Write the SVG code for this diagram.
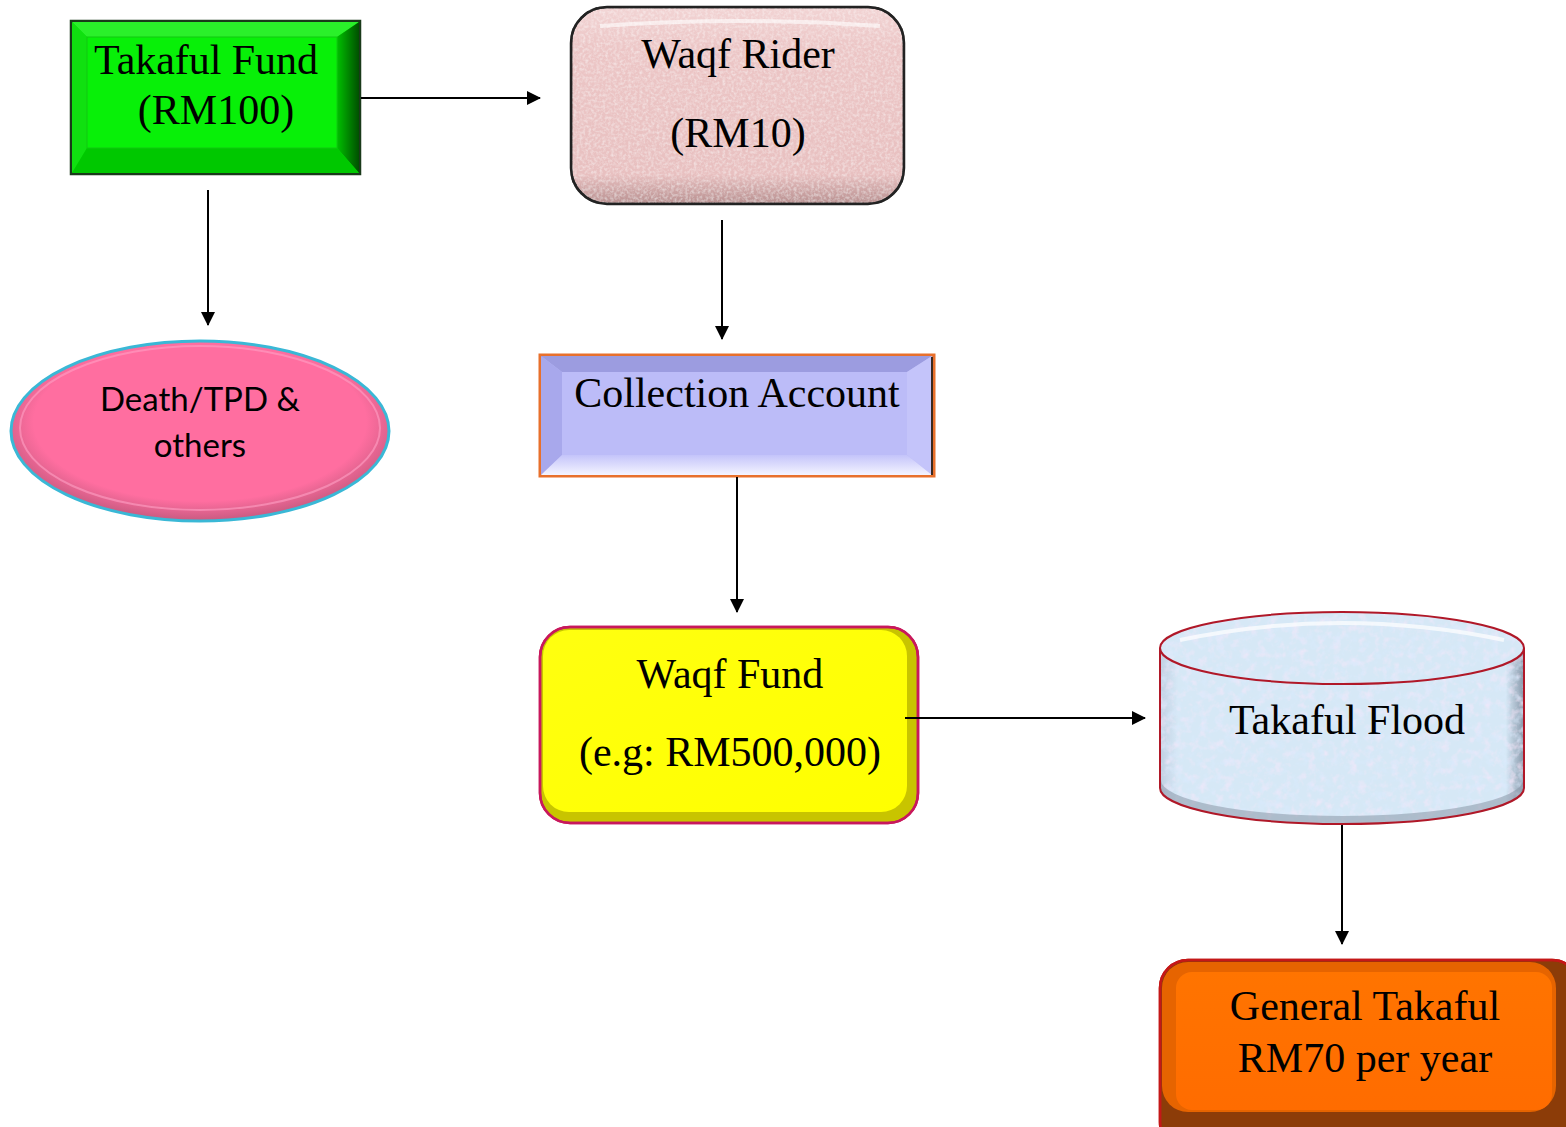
<svg xmlns="http://www.w3.org/2000/svg" width="1566" height="1127" viewBox="0 0 1566 1127">
  <defs>
    <marker id="arrow" viewBox="0 0 14 14" refX="13" refY="7" markerWidth="14" markerHeight="14" markerUnits="userSpaceOnUse" orient="auto">
      <path d="M0,0 L14,7 L0,14 Z" fill="#000"/>
    </marker>
    <!-- grainy texture for the soft stone-like fills -->
    <filter id="grain" x="0" y="0" width="100%" height="100%">
      <feTurbulence type="fractalNoise" baseFrequency="0.35" numOctaves="2" seed="4" result="n"/>
      <feColorMatrix in="n" type="matrix" values="0 0 0 0 1  0 0 0 0 1  0 0 0 0 1  0 0 0 0.9 -0.35" result="spots"/>
      <feComposite in="spots" in2="SourceGraphic" operator="in" result="clip"/>
      <feMerge><feMergeNode in="SourceGraphic"/><feMergeNode in="clip"/></feMerge>
    </filter>
    <filter id="grainBlue" x="0" y="0" width="100%" height="100%">
      <feTurbulence type="fractalNoise" baseFrequency="0.12" numOctaves="3" seed="9" result="n"/>
      <feColorMatrix in="n" type="matrix" values="0 0 0 0 0.92  0 0 0 0 0.80  0 0 0 0 0.96  1.6 0 0 0 -0.75" result="pinkSpots"/>
      <feColorMatrix in="n" type="matrix" values="0 0 0 0 0.70  0 0 0 0 0.82  0 0 0 0 0.98  0 1.6 0 0 -0.75" result="blueSpots"/>
      <feMerge result="spots"><feMergeNode in="pinkSpots"/><feMergeNode in="blueSpots"/></feMerge>
      <feComposite in="spots" in2="SourceGraphic" operator="in" result="clip"/>
      <feMerge><feMergeNode in="SourceGraphic"/><feMergeNode in="clip"/></feMerge>
    </filter>
    <linearGradient id="greenRight" x1="0" y1="0" x2="1" y2="0">
      <stop offset="0" stop-color="#00c000"/>
      <stop offset="1" stop-color="#005000"/>
    </linearGradient>
    <linearGradient id="blueBottom" x1="0" y1="0" x2="0" y2="1">
      <stop offset="0" stop-color="#c4c4fa"/>
      <stop offset="1" stop-color="#f4f4ff"/>
    </linearGradient>
    <linearGradient id="pinkFace" x1="0" y1="0" x2="0" y2="1">
      <stop offset="0" stop-color="#f2d4d4"/>
      <stop offset="0.2" stop-color="#ecc6c6"/>
      <stop offset="0.85" stop-color="#e8c0c0"/>
      <stop offset="1" stop-color="#b89090"/>
    </linearGradient>
    <radialGradient id="ellipseFill" cx="0.5" cy="0.45" r="0.55">
      <stop offset="0.8" stop-color="#ff6ea0"/>
      <stop offset="1" stop-color="#c85a80"/>
    </radialGradient>
    <linearGradient id="yellowFace" x1="0" y1="0" x2="1" y2="1">
      <stop offset="0" stop-color="#ffff10"/>
      <stop offset="1" stop-color="#ffff00"/>
    </linearGradient>
    <linearGradient id="cylBody" x1="0" y1="0" x2="1" y2="0">
      <stop offset="0" stop-color="#c0d0e2"/>
      <stop offset="0.05" stop-color="#d6e8f6"/>
      <stop offset="0.95" stop-color="#d6e8f6"/>
      <stop offset="1" stop-color="#8898aa"/>
    </linearGradient>
    <linearGradient id="orangeFace" x1="0" y1="0" x2="0" y2="1">
      <stop offset="0" stop-color="#ff7400"/>
      <stop offset="1" stop-color="#ff6c00"/>
    </linearGradient>
  </defs>
  <style>
    .serif { font-family: "Liberation Serif", "Times New Roman", serif; font-size: 42px; fill: #000; text-anchor: middle; }
    .sans { font-family: "Lato", "Liberation Sans", sans-serif; font-size: 33px; fill: #000; text-anchor: middle; }
    .conn { stroke: #000; stroke-width: 2; fill: none; marker-end: url(#arrow); }
  </style>

  <rect width="1566" height="1127" fill="#fff"/>

  <!-- Takaful Fund: bevelled green box -->
  <g id="takaful-fund">
    <rect x="71" y="21" width="289" height="153" fill="#00e000" stroke="#1a3a1a" stroke-width="2.5"/>
    <polygon points="72,22 359,22 337,37 87,37" fill="#2af02a"/>
    <polygon points="72,22 87,37 87,148 72,173" fill="#10e010"/>
    <polygon points="359,22 359,173 337,148 337,37" fill="url(#greenRight)"/>
    <polygon points="72,173 359,173 337,148 87,148" fill="#00c800"/>
    <rect x="87" y="37" width="250" height="111" fill="#08f008" stroke="#10c810" stroke-width="1"/>
    <text class="serif" x="206" y="74" textLength="224" lengthAdjust="spacing">Takaful Fund</text>
    <text class="serif" x="216" y="124">(RM100)</text>
  </g>

  <!-- Death/TPD & others: pink ellipse -->
  <g id="death-tpd">
    <ellipse cx="200" cy="431" rx="189" ry="90" fill="url(#ellipseFill)" stroke="#3ab8d6" stroke-width="3"/>
    <ellipse cx="200" cy="428" rx="180" ry="82" fill="none" stroke="#ffa0c4" stroke-width="2" opacity="0.6"/>
    <text class="sans" x="200" y="411">Death/TPD &amp;</text>
    <text class="sans" x="200" y="457">others</text>
  </g>

  <!-- Waqf Rider: textured pink rounded box -->
  <g id="waqf-rider">
    <rect x="571" y="7" width="333" height="197" rx="36" fill="url(#pinkFace)" stroke="#222" stroke-width="2.5" filter="url(#grain)"/>
    <rect x="571" y="7" width="333" height="197" rx="36" fill="none" stroke="#222" stroke-width="2.5"/>
    <path d="M600,26 Q740,16 880,26" stroke="#fff" stroke-width="4" fill="none" opacity="0.6"/>
    <text class="serif" x="738" y="68">Waqf Rider</text>
    <text class="serif" x="738" y="147">(RM10)</text>
  </g>

  <!-- Collection Account: bevelled lavender box -->
  <g id="collection-account">
    <rect x="540" y="355" width="394" height="121" fill="#b8b8f4" stroke="#e8702c" stroke-width="3"/>
    <polygon points="541,356 932,356 907,372 562,372" fill="#9c9ce0"/>
    <polygon points="541,356 562,372 562,455 541,475" fill="#a8a8ec"/>
    <polygon points="932,356 932,475 907,455 907,372" fill="#c4c4fa"/>
    <polygon points="541,475 932,475 907,455 562,455" fill="url(#blueBottom)"/>
    <rect x="562" y="372" width="345" height="83" fill="#bcbcf8"/>
    <line x1="932" y1="357" x2="932" y2="475" stroke="#3a2a20" stroke-width="2"/>
    <text class="serif" x="737" y="407">Collection Account</text>
  </g>

  <!-- Waqf Fund: yellow rounded box -->
  <g id="waqf-fund">
    <rect x="540" y="627" width="378" height="196" rx="30" fill="#c8c400" stroke="#c8185c" stroke-width="2.5"/>
    <rect x="543" y="630" width="364" height="182" rx="26" fill="url(#yellowFace)"/>
    <rect x="540" y="627" width="378" height="196" rx="30" fill="none" stroke="#c8185c" stroke-width="2.5"/>
    <text class="serif" x="730" y="688">Waqf Fund</text>
    <text class="serif" x="730" y="766">(e.g: RM500,000)</text>
  </g>

  <!-- Takaful Flood: textured cylinder -->
  <g id="takaful-flood">
    <path d="M1160,648 L1160,788 A182,36 0 0 0 1524,788 L1524,648 Z" fill="url(#cylBody)" filter="url(#grainBlue)"/>
    <path d="M1161,780 A181,36 0 0 0 1523,780 L1523,790 A181,34 0 0 1 1161,790 Z" fill="#8a98a8" opacity="0.55"/>
    <ellipse cx="1342" cy="648" rx="182" ry="36" fill="#d6e8f6" filter="url(#grainBlue)"/>
    <path d="M1180,640 Q1342,606 1504,640" stroke="#fff" stroke-width="4" fill="none" opacity="0.7"/>
    <ellipse cx="1342" cy="648" rx="182" ry="36" fill="none" stroke="#b01828" stroke-width="2"/>
    <path d="M1160,648 L1160,788 A182,36 0 0 0 1524,788 L1524,648" fill="none" stroke="#b01828" stroke-width="2"/>
    <text class="serif" x="1347" y="734">Takaful Flood</text>
  </g>

  <!-- General Takaful: orange rounded box -->
  <g id="general-takaful">
    <rect x="1160" y="960" width="420" height="190" rx="28" fill="#8c3c08" stroke="#c41818" stroke-width="2.5"/>
    <rect x="1162" y="962" width="394" height="150" rx="26" fill="#e66400"/>
    <rect x="1176" y="972" width="376" height="138" rx="16" fill="url(#orangeFace)"/>
    <rect x="1160" y="960" width="420" height="190" rx="28" fill="none" stroke="#c41818" stroke-width="2.5"/>
    <text class="serif" x="1365" y="1020">General Takaful</text>
    <text class="serif" x="1365" y="1072">RM70 per year</text>
  </g>

  <!-- connectors, drawn over the node edges -->
  <g id="connectors">
    <line class="conn" x1="361" y1="98" x2="540" y2="98"/>
    <line class="conn" x1="208" y1="190" x2="208" y2="325"/>
    <line class="conn" x1="722" y1="220" x2="722" y2="339"/>
    <line class="conn" x1="737" y1="477" x2="737" y2="612"/>
    <line class="conn" x1="905" y1="718" x2="1145" y2="718"/>
    <line class="conn" x1="1342" y1="825" x2="1342" y2="944"/>
  </g>
</svg>
